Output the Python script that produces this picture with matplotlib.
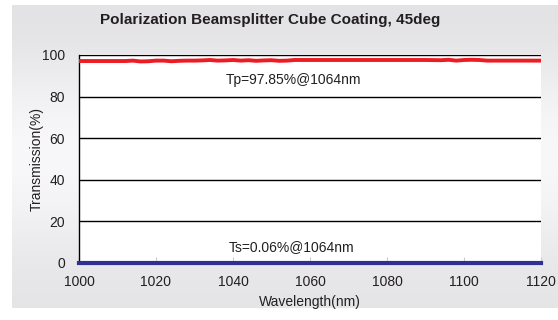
import numpy as np
import matplotlib
matplotlib.use("Agg")
import matplotlib.pyplot as plt

plt.rcParams['font.family'] = ['Liberation Sans', 'DejaVu Sans']

# wavelength grid (nm) and measured transmission (%)
wavelength = [1000, 1004, 1008, 1012, 1014, 1016, 1018, 1020, 1022, 1024, 1026,
              1028, 1030, 1032, 1034, 1036, 1038, 1040, 1042, 1044, 1046, 1048,
              1050, 1052, 1054, 1056, 1060, 1064, 1070, 1080, 1090, 1094, 1096,
              1098, 1100, 1102, 1104, 1106, 1110, 1115, 1120]
tp = [97.1, 97.1, 97.1, 97.1, 97.3, 96.9, 97.0, 97.3, 97.3, 97.0, 97.2,
      97.3, 97.3, 97.4, 97.6, 97.3, 97.4, 97.6, 97.3, 97.5, 97.2, 97.4,
      97.5, 97.2, 97.3, 97.6, 97.6, 97.6, 97.6, 97.6, 97.6, 97.5, 97.7,
      97.3, 97.6, 97.7, 97.6, 97.3, 97.3, 97.3, 97.3]
ts = [0.06] * len(wavelength)

x_ticks = [1000, 1020, 1040, 1060, 1080, 1100, 1120]
y_ticks = [0, 20, 40, 60, 80, 100]

fig = plt.figure(figsize=(5.58, 3.2), dpi=100)
fig.patch.set_facecolor("white")

# grey gradient panel behind everything
bg = fig.add_axes([12 / 558, 1 - 308 / 320, 1 - 12 / 558, 303 / 320], zorder=0)
grad = np.array([0.89, 0.91, 0.94, 0.965, 0.975, 0.965, 0.94, 0.915, 0.90]).reshape(-1, 1)
bg.imshow(np.dstack([grad, grad, grad + 0.01]).clip(0, 1), aspect="auto",
          interpolation="bicubic", extent=[0, 1, 0, 1])
bg.axis("off")

ax = fig.add_axes([79 / 558, 1 - 263 / 320, 462 / 558, 208 / 320], zorder=1)
ax.set_facecolor("white")

ax.plot(wavelength, tp, color="#ed1c24", linewidth=2.8, zorder=3)
ax.plot(wavelength, ts, color="#2e3192", linewidth=3, zorder=3, clip_on=False)

ax.set_xlim(1000, 1120)
ax.set_ylim(0, 100)
ax.set_xticks(x_ticks)
ax.set_yticks(y_ticks)
ax.grid(axis="y", color="black", linewidth=1)
ax.set_axisbelow(True)
for s in ["right", "top"]:
    ax.spines[s].set_visible(False)
ax.spines["left"].set_linewidth(1)
ax.spines["bottom"].set_visible(False)
ax.tick_params(axis="y", length=0, pad=10, labelsize=10, colors="#231f20")
ax.tick_params(axis="x", direction="in", length=4, color="#cccccc", pad=9,
               labelsize=10, labelcolor="#231f20")

ax.text(1055.6, 88, "Tp=97.85%@1064nm", ha="center", va="center", fontsize=10,
        color="#231f20")
ax.text(1055.3, 7.7, "Ts=0.06%@1064nm", ha="center", va="center", fontsize=10,
        color="#231f20")

ax.set_xlabel("Wavelength(nm)", fontsize=10, color="#231f20", labelpad=4)
ax.set_ylabel("Transmission(%)", fontsize=10, color="#231f20", labelpad=-1)
fig.text(270 / 558, 1 - 20 / 320, "Polarization Beamsplitter Cube Coating, 45deg",
         ha="center", va="center", fontsize=11, fontweight="bold", color="#231f20")

fig.savefig("out.png", dpi=100)
